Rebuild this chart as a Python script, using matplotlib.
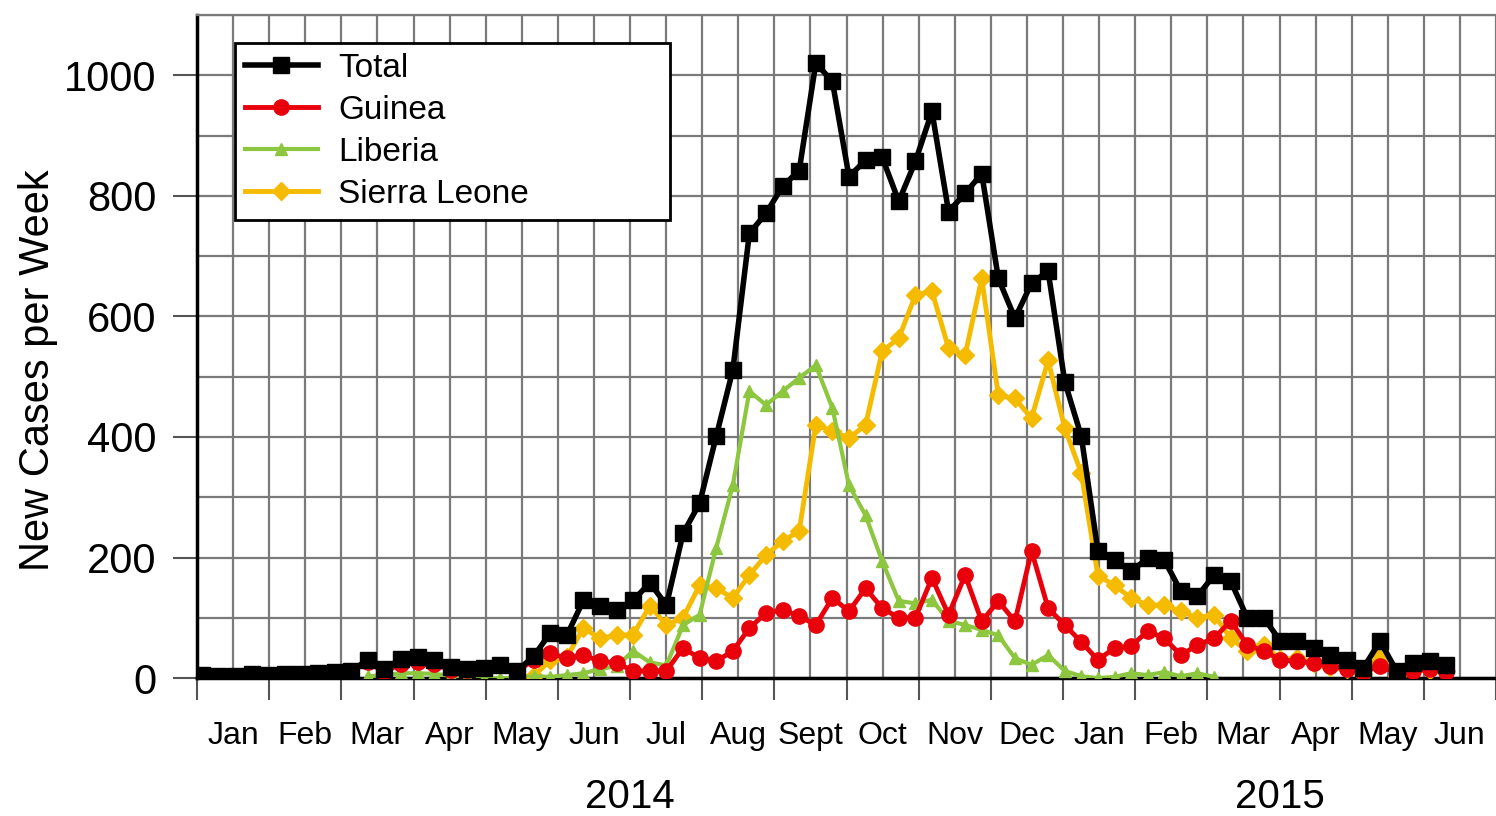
import numpy as np
import matplotlib
matplotlib.use('Agg')
import matplotlib.pyplot as plt
from matplotlib.transforms import blended_transform_factory

plt.rcParams['font.family'] = ['Liberation Sans', 'DejaVu Sans']

nan = np.nan

# new cases per week, weekly from early Jan 2014
total = [5, 3, 3, 6, 5, 6, 7, 8, 10, 12,
         30, 15, 32, 35, 30, 18, 15, 16, 22, 12,
         36, 75, 71, 129, 119, 113, 129, 158, 121, 240,
         290, 401, 511, 738, 771, 816, 842, 1020, 990, 832,
         859, 864, 791, 857, 940, 774, 804, 837, 663, 597,
         655, 675, 492, 401, 211, 196, 177, 199, 196, 144,
         136, 171, 161, 100, 100, 61, 61, 50, 38, 30,
         17, 61, 12, 25, 28, 22]

guinea = [5, 3, 3, 6, 5, 6, 7, 8, 10, 12,
          27, 10, 24, 27, 23, 14, 13, 16, 22, 12,
          30, 41, 33, 38, 28, 25, 12, 12, 12, 50,
          33, 28, 45, 83, 108, 113, 103, 88, 133, 111,
          149, 116, 100, 100, 166, 105, 171, 94, 128, 94,
          211, 116, 88, 60, 30, 50, 53, 78, 66, 38,
          55, 66, 95, 55, 45, 30, 28, 25, 20, 15,
          10, 20, 8, 12, 15, 10]

liberia = [nan, nan, nan, nan, nan, nan, nan, nan, nan, nan,
           3, 5, 8, 8, 7, 4, 2, 0, 0, 0,
           3, 2, 5, 8, 15, 20, 45, 26, 21, 88,
           105, 216, 320, 476, 453, 476, 498, 519, 448, 320,
           270, 194, 128, 124, 130, 95, 88, 80, 71, 33,
           22, 38, 12, 3, 0, 2, 8, 5, 10, 3,
           8, 2, nan, nan, nan, nan, nan, nan, nan, nan,
           nan, nan, nan, nan, nan, nan]

sierra_leone = [nan, nan, nan, nan, nan, nan, nan, nan, nan, nan,
                nan, nan, nan, nan, nan, nan, nan, nan, nan, 2,
                3, 30, 35, 83, 66, 71, 72, 120, 88, 100,
                154, 149, 133, 171, 204, 227, 244, 420, 410, 398,
                420, 542, 564, 635, 642, 547, 536, 663, 469, 464,
                431, 527, 415, 340, 170, 154, 133, 121, 121, 111,
                100, 105, 66, 45, 55, 31, 33, 25, 18, 15,
                7, 40, 4, 13, 13, 12]

months = ['Jan', 'Feb', 'Mar', 'Apr', 'May', 'Jun', 'Jul', 'Aug', 'Sept',
          'Oct', 'Nov', 'Dec', 'Jan', 'Feb', 'Mar', 'Apr', 'May', 'Jun']
years = ['2014', '2015']
year_centre = [6.0, 15.0]   # middle of each year's span, in months

week = np.arange(len(total))
x = (week * 7 + 2) / 30.44   # months since 1 Jan 2014

fig = plt.figure(figsize=(14.96, 8.16), dpi=100)
ax = fig.add_axes([0.1317, 0.169, 0.8683, 0.8126])

l_sl, = ax.plot(x, sierra_leone, '-D', color='#f4bb00', lw=3.5, ms=9, zorder=3)
l_li, = ax.plot(x, liberia, '-^', color='#8dc63f', lw=3, ms=9, zorder=4)
l_gu, = ax.plot(x, guinea, '-o', color='#e8000b', lw=3.5, ms=11, zorder=5)
l_to, = ax.plot(x, total, '-s', color='black', lw=4, ms=11, zorder=6)

ax.set_xlim(0, 18)
ax.set_ylim(0, 1100)

ax.set_xticks(np.arange(19))
ax.set_xticks(np.arange(18) + 0.5, minor=True)
ax.set_xticklabels(months, minor=True)
ax.tick_params(axis='x', which='major', length=16, width=1.5, color='#555555',
               labelbottom=False)
ax.tick_params(axis='x', which='minor', length=0, pad=31, labelsize=23)

ax.set_yticks(range(0, 1001, 200))
ax.set_yticks(range(100, 1101, 200), minor=True)
ax.tick_params(axis='y', which='major', length=17, width=1.5, color='#555555',
               pad=12, labelsize=30)
ax.tick_params(axis='y', which='minor', length=0)

ax.grid(True, which='both', color='#7a7a7a', lw=1.6)
ax.set_axisbelow(True)

ax.spines['right'].set_visible(False)
ax.spines['top'].set_color('#7a7a7a')
ax.spines['top'].set_linewidth(1.6)
ax.spines['left'].set_linewidth(2.5)
ax.spines['bottom'].set_linewidth(2.5)

leg = ax.legend([l_to, l_gu, l_li, l_sl], ['Total', 'Guinea', 'Liberia', 'Sierra Leone'],
                loc='upper left', bbox_to_anchor=(0.029, 0.0, 0.335, 0.958),
                mode='expand', borderaxespad=0, fontsize=24, numpoints=1,
                fancybox=False, framealpha=1, edgecolor='black',
                handlelength=2.2, handletextpad=0.6, labelspacing=0.33,
                borderpad=0.3)
leg.get_frame().set_linewidth(2)

trans = blended_transform_factory(ax.transData, fig.transFigure)
for yr, xc in zip(years, year_centre):
    ax.text(xc, 0.023, yr, transform=trans, ha='center', va='center', fontsize=29)

fig.text(0.0254, 1 - 370 / 816, 'New Cases per Week', rotation=90,
         ha='center', va='center', fontsize=30)

fig.savefig('out.png', dpi=100)
